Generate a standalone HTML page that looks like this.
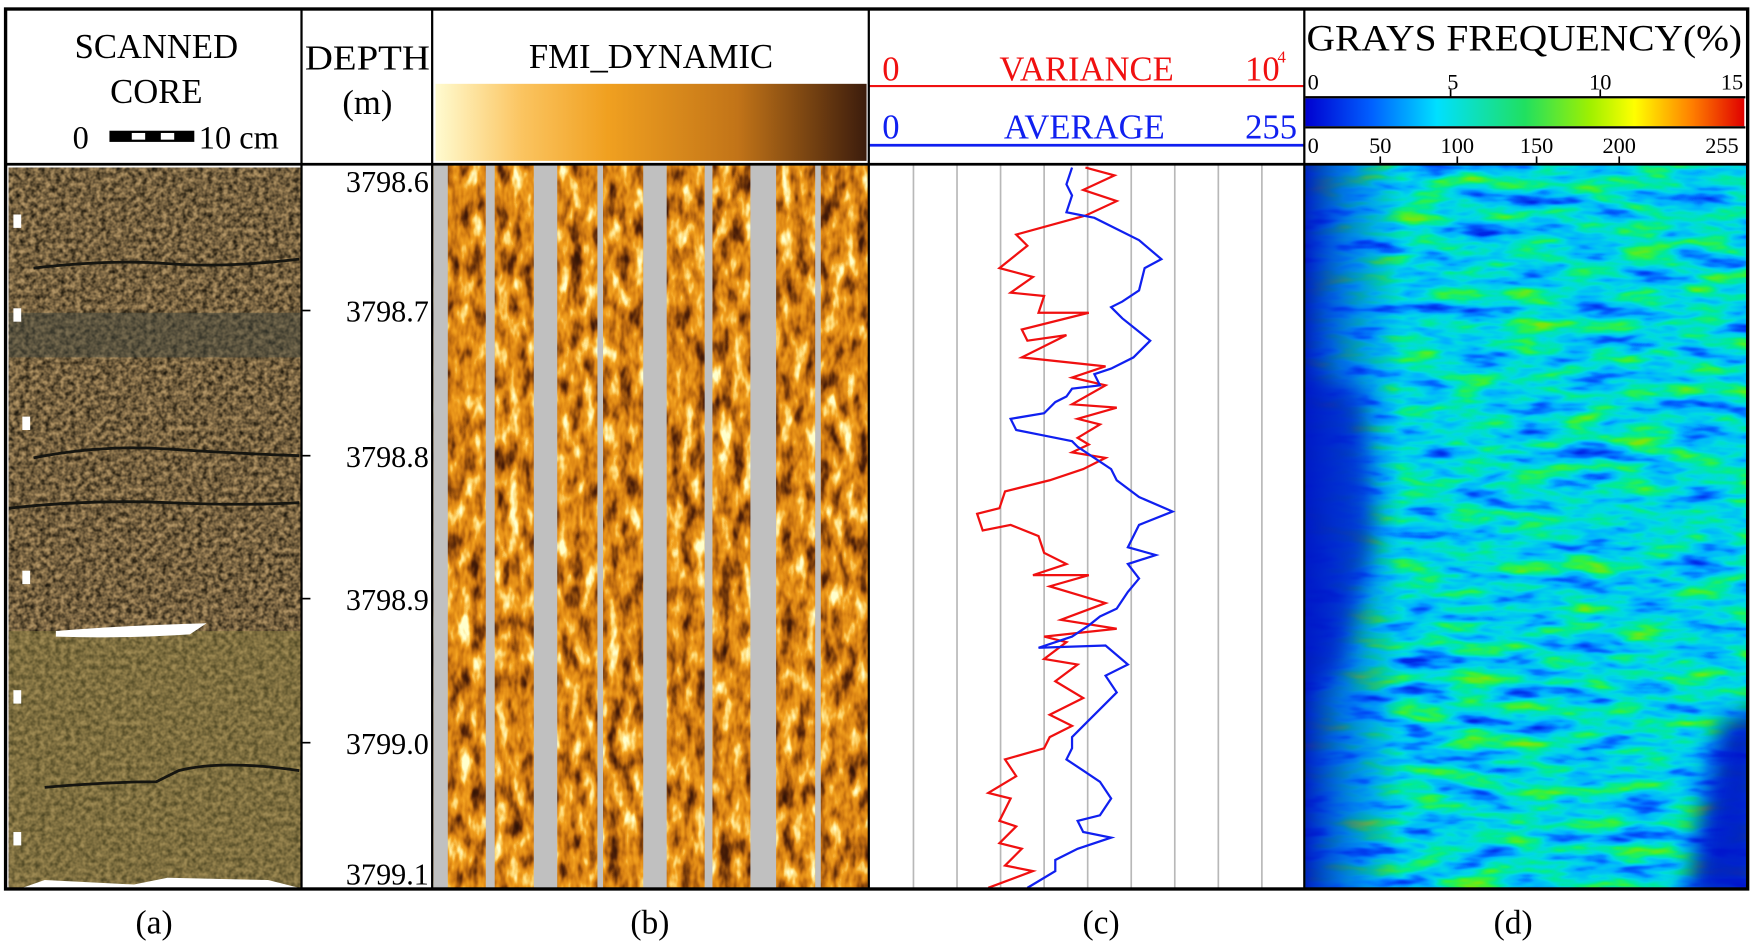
<!DOCTYPE html>
<html><head><meta charset="utf-8"><style>html,body{margin:0;padding:0;background:#fff}svg{display:block}filter{color-interpolation-filters:sRGB}</style></head>
<body>
<svg width="1751" height="946" viewBox="0 0 1568 847" xmlns="http://www.w3.org/2000/svg" font-family="Liberation Serif, serif">
<defs>
<filter id="fmi" filterUnits="userSpaceOnUse" x="388" y="148" width="390" height="647" color-interpolation-filters="sRGB">
<feTurbulence type="fractalNoise" baseFrequency="0.09 0.04" numOctaves="3" seed="4"/>
<feColorMatrix type="matrix" values="1 0 0 0 0  1 0 0 0 0  1 0 0 0 0  0 0 0 0 1"/>
<feComponentTransfer>
<feFuncR type="table" tableValues="0.2 0.2 0.3 0.5 0.72 0.87 0.95 1 1 1 1"/>
<feFuncG type="table" tableValues="0.08 0.08 0.12 0.25 0.4 0.53 0.63 0.85 1 1 1"/>
<feFuncB type="table" tableValues="0.02 0.02 0.03 0.04 0.06 0.08 0.12 0.45 0.8 0.8 0.8"/>
</feComponentTransfer></filter>
<filter id="gf" filterUnits="userSpaceOnUse" x="1169" y="148" width="395" height="647" color-interpolation-filters="sRGB">
<feTurbulence type="fractalNoise" baseFrequency="0.02 0.07" numOctaves="3" seed="7"/>
<feColorMatrix type="matrix" values="1 0 0 0 0  1 0 0 0 0  1 0 0 0 0  0 0 0 0 1"/>
<feComponentTransfer>
<feFuncR type="table" tableValues="0 0 0 0 0 0 0.2 0.5 0.5"/>
<feFuncG type="table" tableValues="0.15 0.15 0.4 0.7 0.85 0.92 0.95 0.9 0.9"/>
<feFuncB type="table" tableValues="0.9 0.9 1 1 0.9 0.6 0.25 0.05 0.05"/>
</feComponentTransfer></filter>
<filter id="core" filterUnits="userSpaceOnUse" x="8" y="150" width="261" height="645" color-interpolation-filters="sRGB">
<feTurbulence type="fractalNoise" baseFrequency="0.22 0.22" numOctaves="2" seed="2"/>
<feColorMatrix type="matrix" values="1 0 0 0 0  1 0 0 0 0  1 0 0 0 0  0 0 0 0 1"/>
<feComponentTransfer>
<feFuncR type="table" tableValues="0.12 0.12 0.22 0.34 0.46 0.57 0.67 0.72 0.72"/>
<feFuncG type="table" tableValues="0.1 0.1 0.18 0.28 0.38 0.47 0.56 0.6 0.6"/>
<feFuncB type="table" tableValues="0.06 0.06 0.11 0.18 0.25 0.31 0.38 0.42 0.42"/>
</feComponentTransfer></filter>
<filter id="blur" filterUnits="userSpaceOnUse" x="1100" y="100" width="500" height="750"><feGaussianBlur stdDeviation="10"/></filter>
<clipPath id="dclip"><rect x="1169" y="148" width="395" height="647"/></clipPath>
<linearGradient id="fmig" x1="0" x2="1"><stop offset="0" stop-color="#fffbd0"/><stop offset="0.2" stop-color="#fbc460"/><stop offset="0.4" stop-color="#f0a020"/><stop offset="0.7" stop-color="#c27418"/><stop offset="1" stop-color="#3c1c0c"/></linearGradient>
<linearGradient id="jet" x1="0" x2="1"><stop offset="0" stop-color="#0000d0"/><stop offset="0.15" stop-color="#0060ff"/><stop offset="0.3" stop-color="#00e0ff"/><stop offset="0.5" stop-color="#20e060"/><stop offset="0.65" stop-color="#a0f000"/><stop offset="0.75" stop-color="#ffff00"/><stop offset="0.88" stop-color="#ff8000"/><stop offset="1" stop-color="#e00000"/></linearGradient>
<linearGradient id="leftb" x1="0" x2="1"><stop offset="0" stop-color="#0010c0" stop-opacity="0.9"/><stop offset="0.1" stop-color="#0030e0" stop-opacity="0.5"/><stop offset="0.22" stop-color="#0040ff" stop-opacity="0"/></linearGradient>
</defs>

<rect x="8" y="150" width="261" height="645" filter="url(#core)"/>
<rect x="8" y="565" width="261" height="230" fill="#8a8040" opacity="0.45"/>
<rect x="8" y="280" width="261" height="40" fill="#40463e" opacity="0.5"/>
<g stroke="#151510" stroke-width="2.5" fill="none">
<path d="M30 240 Q100 232 150 236 T268 232"/>
<path d="M30 410 Q90 398 150 402 T268 408"/>
<path d="M8 455 Q80 447 150 450 T268 450"/>
<path d="M40 705 Q100 700 140 700 L160 690 Q200 680 268 690"/>
</g>
<path d="M50 565 Q110 560 185 558 L170 568 Q110 572 50 570 Z" fill="#fff"/>
<path d="M20 795 L40 788 L120 792 L150 786 L240 788 L268 795 Z" fill="#fff"/>
<g fill="#fff"><rect x="12" y="192" width="7" height="12"/><rect x="12" y="276" width="7" height="12"/><rect x="20" y="373" width="7" height="12"/><rect x="20" y="511" width="7" height="12"/><rect x="12" y="618" width="7" height="12"/><rect x="12" y="745" width="7" height="12"/></g>

<rect x="388" y="148" width="390" height="647" filter="url(#fmi)"/>
<g fill="#c0c0c0">
<rect x="388" y="148" width="13" height="647"/><rect x="435" y="148" width="8" height="647"/>
<rect x="478" y="148" width="21" height="647"/><rect x="535" y="148" width="5" height="647"/>
<rect x="576" y="148" width="21" height="647"/><rect x="631" y="148" width="7" height="647"/>
<rect x="672" y="148" width="23" height="647"/><rect x="730" y="148" width="5" height="647"/>
</g>
<rect x="390" y="75" width="386" height="69" fill="url(#fmig)"/>

<g stroke="#b8b8b8" stroke-width="1.5">
<line x1="818" y1="148" x2="818" y2="795"/><line x1="857" y1="148" x2="857" y2="795"/><line x1="896" y1="148" x2="896" y2="795"/><line x1="935" y1="148" x2="935" y2="795"/><line x1="974" y1="148" x2="974" y2="795"/><line x1="1013" y1="148" x2="1013" y2="795"/><line x1="1052" y1="148" x2="1052" y2="795"/><line x1="1091" y1="148" x2="1091" y2="795"/><line x1="1130" y1="148" x2="1130" y2="795"/>
</g>
<polyline fill="none" stroke="#f01010" stroke-width="2" points="972,150 998,157 970,170 1000,180 972,193 910,210 920,220 895,240 925,248 905,262 935,265 930,280 975,280 915,295 920,305 955,300 915,320 990,328 960,338 990,345 960,362 1000,365 965,375 985,380 965,392 975,398 960,405 990,410 970,420 940,430 900,440 895,455 875,460 880,475 905,470 930,480 935,495 955,505 925,515 975,515 940,525 990,540 950,555 1000,563 935,570 955,575 935,590 965,595 945,610 970,625 940,640 960,650 940,660 935,670 900,680 910,695 885,710 905,715 895,735 910,740 895,755 915,760 900,775 925,780 885,795"/>
<polyline fill="none" stroke="#1020f0" stroke-width="2" points="960,150 955,165 960,175 955,190 980,195 1000,205 1020,215 1040,232 1025,240 1020,260 1005,270 995,275 1005,285 1030,305 1015,320 995,330 980,335 985,345 960,348 955,355 945,360 935,370 905,375 910,385 935,390 960,395 965,400 980,410 995,420 1000,430 1020,445 1050,458 1020,470 1010,490 1035,497 1010,505 1020,518 1010,530 1000,545 985,552 975,560 960,570 930,580 990,578 1010,595 990,605 1000,620 985,635 975,645 960,660 960,670 955,680 970,690 985,700 995,715 985,730 965,735 970,745 995,750 965,760 945,770 945,780 920,795"/>
<line x1="778" y1="77" x2="1168" y2="77" stroke="#f01010" stroke-width="2"/>
<line x1="778" y1="130" x2="1168" y2="130" stroke="#1020f0" stroke-width="2.5"/>
<g font-size="31" fill="#f01010"><text x="790" y="72">0</text><text x="973" y="72" text-anchor="middle">VARIANCE</text><text x="1115" y="72">10</text><text x="1144" y="56" font-size="15">4</text></g>
<g font-size="31" fill="#1020f0"><text x="790" y="124">0</text><text x="971" y="124" text-anchor="middle">AVERAGE</text><text x="1115" y="124">255</text></g>

<rect x="1169" y="148" width="395" height="647" filter="url(#gf)"/>
<g clip-path="url(#dclip)">
<rect x="1169" y="148" width="395" height="647" fill="url(#leftb)"/>
<path d="M1150 330 L1220 350 L1230 480 L1200 600 L1150 620 Z" fill="#0018c8" opacity="0.7" filter="url(#blur)"/>
<path d="M1580 630 L1540 650 L1525 720 L1510 810 L1580 810 Z" fill="#0010c8" opacity="0.9" filter="url(#blur)"/>
</g>
<rect x="1169" y="88" width="393" height="25" fill="url(#jet)"/>
<line x1="1169" y1="87" x2="1563" y2="87" stroke="#000" stroke-width="2"/>
<line x1="1169" y1="114" x2="1563" y2="114" stroke="#000" stroke-width="2"/>
<text x="1365" y="45" font-size="33" text-anchor="middle" textLength="390" lengthAdjust="spacingAndGlyphs">GRAYS FREQUENCY(%)</text>
<g font-size="20" text-anchor="middle"><text x="1176" y="80">0</text><text x="1301" y="80">5</text><text x="1433" y="80">10</text><text x="1551" y="80">15</text>
<text x="1176" y="137">0</text><text x="1236" y="137">50</text><text x="1305" y="137">100</text><text x="1376" y="137">150</text><text x="1450" y="137">200</text><text x="1542" y="137">255</text></g>
<g stroke="#000" stroke-width="1.5"><line x1="1299" y1="80" x2="1299" y2="87"/><line x1="1433" y1="80" x2="1433" y2="87"/><line x1="1236" y1="140" x2="1236" y2="146"/><line x1="1305" y1="140" x2="1305" y2="146"/><line x1="1376" y1="140" x2="1376" y2="146"/><line x1="1450" y1="140" x2="1450" y2="146"/></g>

<g font-size="31" text-anchor="middle"><text x="140" y="52">SCANNED</text><text x="140" y="92">CORE</text>
<text x="329" y="62" textLength="112" lengthAdjust="spacingAndGlyphs">DEPTH</text><text x="329" y="102">(m)</text><text x="583" y="61">FMI_DYNAMIC</text></g>
<text x="65" y="133" font-size="29">0</text>
<rect x="98" y="117" width="76" height="10" fill="#000"/><rect x="118" y="119" width="12" height="6" fill="#fff"/><rect x="144" y="119" width="12" height="6" fill="#fff"/>
<text x="178" y="133" font-size="29">10 cm</text>

<g font-size="27" text-anchor="end"><text x="384" y="172">3798.6</text><text x="384" y="288">3798.7</text><text x="384" y="418">3798.8</text><text x="384" y="546">3798.9</text><text x="384" y="675">3799.0</text><text x="384" y="792">3799.1</text></g>
<g stroke="#000" stroke-width="1.5"><line x1="270" y1="278" x2="278" y2="278"/><line x1="270" y1="408" x2="278" y2="408"/><line x1="270" y1="536" x2="278" y2="536"/><line x1="270" y1="665" x2="278" y2="665"/></g>

<g stroke="#000" fill="none">
<rect x="5" y="8" width="1560" height="788" stroke-width="3"/>
<line x1="5" y1="147" x2="1565" y2="147" stroke-width="2.5"/>
<line x1="270" y1="8" x2="270" y2="796" stroke-width="2"/>
<line x1="387" y1="8" x2="387" y2="796" stroke-width="2"/>
<line x1="778" y1="8" x2="778" y2="796" stroke-width="2"/>
<line x1="1168" y1="8" x2="1168" y2="796" stroke-width="2"/>
</g>
<g font-size="30" text-anchor="middle"><text x="138" y="836">(a)</text><text x="582" y="836">(b)</text><text x="986" y="836">(c)</text><text x="1355" y="836">(d)</text></g>
</svg>
</body></html>
